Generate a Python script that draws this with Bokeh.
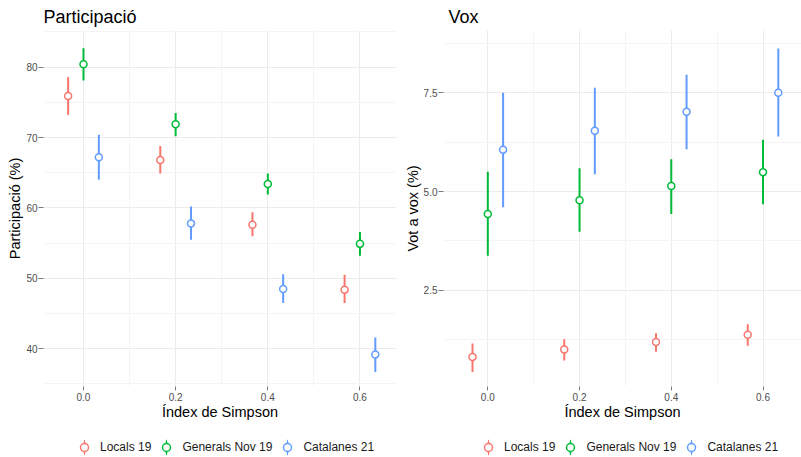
from bokeh.plotting import figure
from bokeh.models import (ColumnDataSource, FixedTicker, NumeralTickFormatter,
                          Legend, LegendItem, Range1d)
from bokeh.layouts import row, column
from bokeh.transform import dodge
from bokeh.embed import file_html
from bokeh.resources import INLINE

# ---------------- data ----------------
simpson = [0.0, 0.2, 0.4, 0.6]
series_names = ["Locals 19", "Generals Nov 19", "Catalanes 21"]
colors = ["#F8766D", "#00BA38", "#619CFF"]
dodge_offsets = [-1 / 30, 0.0, 1 / 30]

# Participació (%)
part_locals_mid = [75.9, 66.8, 57.6, 48.4]
part_locals_lo = [73.2, 64.9, 56.0, 46.5]
part_locals_hi = [78.6, 68.8, 59.4, 50.5]
part_generals_mid = [80.4, 71.9, 63.4, 54.9]
part_generals_lo = [78.1, 70.2, 61.9, 53.2]
part_generals_hi = [82.7, 73.5, 64.9, 56.6]
part_catalanes_mid = [67.2, 57.8, 48.5, 39.2]
part_catalanes_lo = [64.0, 55.5, 46.5, 36.7]
part_catalanes_hi = [70.4, 60.2, 50.6, 41.6]

# Vot a vox (%)
vox_locals_mid = [0.81, 1.00, 1.19, 1.37]
vox_locals_lo = [0.43, 0.72, 0.94, 1.09]
vox_locals_hi = [1.15, 1.26, 1.41, 1.64]
vox_generals_mid = [4.43, 4.78, 5.14, 5.49]
vox_generals_lo = [3.37, 3.98, 4.43, 4.68]
vox_generals_hi = [5.50, 5.59, 5.82, 6.31]
vox_catalanes_mid = [6.06, 6.54, 7.02, 7.50]
vox_catalanes_lo = [4.60, 5.44, 6.07, 6.39]
vox_catalanes_hi = [7.50, 7.63, 7.96, 8.62]

x_ticks = [0.0, 0.2, 0.4, 0.6]
x_minor = [0.1, 0.3, 0.5]
part_y_ticks = [40, 50, 60, 70, 80]
part_y_minor = [35, 45, 55, 65, 75, 85]
vox_y_ticks = [2.5, 5.0, 7.5]
vox_y_minor = [1.25, 3.75, 6.25, 8.75]

FONT = "Liberation Sans"
MAIN_H = 432
LEG_H = 25


def make_panel(title, ylabel, mids, los, his, yticks, yminor, yfmt,
               width, border_left, border_right, x_range, y_range,
               title_offset, legend_x):
    p = figure(width=width, height=MAIN_H, output_backend="svg",
               toolbar_location=None,
               x_range=Range1d(*x_range), y_range=Range1d(*y_range),
               min_border_left=border_left, min_border_right=border_right,
               min_border_top=30, min_border_bottom=MAIN_H - 386)
    p.outline_line_color = None
    p.background_fill_color = "white"
    p.border_fill_color = "white"

    p.title.text = title
    p.title.text_font = FONT
    p.title.text_font_size = "18px"
    p.title.text_font_style = "normal"
    p.title.text_color = "black"
    p.title.standoff = 7
    p.title.align = "left"
    p.title.offset = title_offset

    xt = FixedTicker(ticks=x_ticks, minor_ticks=x_minor)
    yt = FixedTicker(ticks=yticks, minor_ticks=yminor)
    p.xaxis.ticker = xt
    p.yaxis.ticker = yt
    p.xgrid.ticker = xt
    p.ygrid.ticker = yt
    p.xaxis.formatter = NumeralTickFormatter(format="0.0")
    p.yaxis.formatter = NumeralTickFormatter(format=yfmt)
    p.xaxis.axis_label = "Índex de Simpson"
    p.yaxis.axis_label = ylabel

    for ax in (p.xaxis, p.yaxis):
        ax.axis_line_color = None
        ax.major_tick_in = 0
        ax.minor_tick_out = 0
        ax.minor_tick_in = 0
        ax.major_tick_line_color = "#7a7a7a"
        ax.major_label_text_font = FONT
        ax.major_label_text_font_size = "10px"
        ax.major_label_text_color = "#4d4d4d"
        ax.axis_label_text_font = FONT
        ax.axis_label_text_font_size = "14.5px"
        ax.axis_label_text_font_style = "normal"
        ax.axis_label_text_color = "black"
    p.xaxis.major_tick_out = 4
    p.xaxis.major_label_standoff = 2
    p.xaxis.axis_label_standoff = 0
    p.yaxis.major_tick_out = 5
    p.yaxis.major_label_standoff = 1
    p.yaxis.axis_label_standoff = 0

    for g in (p.xgrid, p.ygrid):
        g.grid_line_color = "#ebebeb"
        g.grid_line_width = 1
        g.minor_grid_line_color = "#f4f4f4"
        g.minor_grid_line_width = 1

    # legend strip (same sources, ranges chosen so only the legend shows)
    lg = figure(width=width, height=LEG_H, output_backend="svg",
                toolbar_location=None, title=None,
                x_axis_type=None, y_axis_type=None,
                x_range=Range1d(0, 1), y_range=Range1d(-2, -1),
                min_border=0)
    lg.outline_line_color = None
    lg.grid.visible = False
    lg.background_fill_color = "white"
    lg.border_fill_color = "white"

    items = []
    for name, col, off, m, lo, hi in zip(series_names, colors, dodge_offsets,
                                        mids, los, his):
        src = ColumnDataSource(dict(x=simpson, mid=m, lo=lo, hi=hi))
        xd = dodge("x", off)
        p.segment(x0=xd, y0="lo", x1=xd, y1="hi", source=src,
                  line_color=col, line_width=2)
        p.ellipse(x=xd, y="mid", width=1, height=8,
                  width_units="screen", height_units="screen",
                  source=src, fill_color=col, line_color=None)
        p.scatter(x=xd, y="mid", source=src, marker="circle", size=7,
                  fill_color="white", line_color=col, line_width=1.5)
        # legend keys: vertical bar (thin ellipse) + open circle
        ell = lg.ellipse(x=xd, y="mid", width=1, height=8,
                         width_units="screen", height_units="screen",
                         source=src, fill_color=col, line_color=None)
        pts = lg.scatter(x=xd, y="mid", source=src, marker="circle", size=7,
                         fill_color="white", line_color=col, line_width=1.5)
        items.append(LegendItem(label=name, renderers=[ell, pts]))

    legend = Legend(items=items, orientation="horizontal",
                    location=(legend_x, 0),
                    glyph_width=20, glyph_height=20, label_height=20,
                    label_standoff=6, spacing=5, padding=0, margin=0,
                    border_line_color=None, background_fill_alpha=0,
                    label_text_font=FONT, label_text_font_size="12px",
                    label_text_color="#1a1a1a")
    lg.add_layout(legend, "center")
    return p, lg


p1, l1 = make_panel("Participació", "Participació (%)",
                    [part_locals_mid, part_generals_mid, part_catalanes_mid],
                    [part_locals_lo, part_generals_lo, part_catalanes_lo],
                    [part_locals_hi, part_generals_hi, part_catalanes_hi],
                    part_y_ticks, part_y_minor, "0",
                    400, 43, 4, (-0.0868, 0.6793), (34.64, 85.21), 0, 74)

p2, l2 = make_panel("Vox", "Vot a vox (%)",
                    [vox_locals_mid, vox_generals_mid, vox_catalanes_mid],
                    [vox_locals_lo, vox_generals_lo, vox_catalanes_lo],
                    [vox_locals_hi, vox_generals_hi, vox_catalanes_hi],
                    vox_y_ticks, vox_y_minor, "0.0",
                    401, 43, 0, (-0.0966, 0.6839), (0.061, 9.078), 5, 78)

layout = column(row(p1, p2), row(l1, l2))
open("out.html", "w").write(file_html(layout, INLINE))
